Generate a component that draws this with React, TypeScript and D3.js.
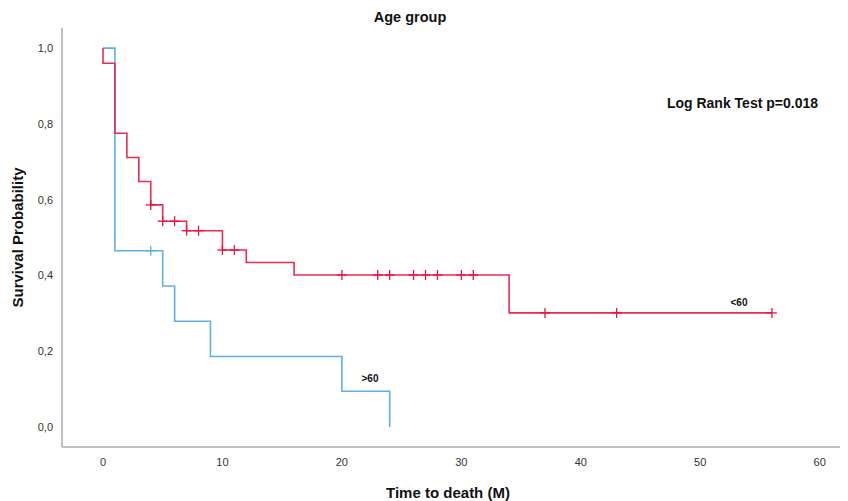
import { useMemo } from 'react';
import * as d3 from 'd3';

const WIDTH = 848;
const HEIGHT = 501;
const PLOT = { left: 62, right: 840, top: 28, bottom: 447 };

// <60 group: drop times and survival after each drop
const youngTimes = [0, 1, 2, 3, 4, 5, 7, 10, 12, 16, 34];
const youngSurv = [0.96, 0.775, 0.711, 0.648, 0.586, 0.543, 0.518, 0.467, 0.434, 0.401, 0.301];
const youngEnd = 56;
const youngCensored = [4, 5, 6, 7, 8, 10, 11, 20, 23, 24, 26, 27, 28, 30, 31, 37, 43, 56];

// >60 group
const oldTimes = [1, 5, 6, 9, 20, 24];
const oldSurv = [0.465, 0.372, 0.279, 0.186, 0.094, 0.0];
const oldEnd = 24;
const oldCensored = [4];

const xTicks = [0, 10, 20, 30, 40, 50, 60];
const yTicks = [0, 0.2, 0.4, 0.6, 0.8, 1.0];

const RED = '#ea2a55';
const BLUE = '#5db0e6';

function survAt(times: number[], surv: number[], t: number) {
  let s = 1;
  times.forEach((tt, i) => {
    if (tt <= t) s = surv[i];
  });
  return s;
}

export default function App() {
  const x = d3.scaleLinear().domain([-3.43, 61.7]).range([PLOT.left, PLOT.right]);
  const y = d3.scaleLinear().domain([-0.053, 1.053]).range([PLOT.bottom, PLOT.top]);

  const curves = useMemo(() => {
    const build = (times: number[], surv: number[], end: number) => {
      const pts: [number, number][] = [[0, 1]];
      let prev = 1;
      times.forEach((t, i) => {
        pts.push([t, prev]);
        pts.push([t, surv[i]]);
        prev = surv[i];
      });
      if (end > times[times.length - 1]) pts.push([end, prev]);
      return d3.line<[number, number]>().x((d) => x(d[0])).y((d) => y(d[1]))(pts) || '';
    };
    return {
      young: build(youngTimes, youngSurv, youngEnd),
      old: build(oldTimes, oldSurv, oldEnd),
    };
  }, []);

  const fmt = (v: number) => v.toFixed(1).replace('.', ',');
  const font = '"Liberation Sans", Arial, sans-serif';

  const censorMarks = (times: number[], tt: number[], ss: number[], color: string) =>
    times.map((t, i) => {
      const cx = x(t);
      const cy = y(survAt(tt, ss, t));
      return (
        <g key={i} stroke={color} strokeWidth={1.3}>
          <line x1={cx - 5} x2={cx + 5} y1={cy} y2={cy} />
          <line x1={cx} x2={cx} y1={cy - 5} y2={cy + 5} />
        </g>
      );
    });

  return (
    <svg width={WIDTH} height={HEIGHT} style={{ display: 'block', position: 'absolute', left: 0, top: 0 }}>
      <rect width={WIDTH} height={HEIGHT} fill="#fff" />
      <text x={410} y={22} textAnchor="middle" fontFamily={font} fontWeight="bold" fontSize={14.5} fill="#111">
        Age group
      </text>

      {/* axes */}
      <line x1={PLOT.left} x2={PLOT.left} y1={PLOT.top} y2={PLOT.bottom} stroke="#aaa" strokeWidth={1.5} />
      <line x1={PLOT.left} x2={PLOT.right} y1={PLOT.bottom} y2={PLOT.bottom} stroke="#aaa" strokeWidth={1.5} />

      {yTicks.map((v) => (
        <text key={v} x={53} y={y(v) + 4} textAnchor="end" fontFamily={font} fontSize={11} fill="#333">
          {fmt(v)}
        </text>
      ))}
      {xTicks.map((v) => (
        <text key={v} x={x(v)} y={466} textAnchor="middle" fontFamily={font} fontSize={11} fill="#333">
          {v}
        </text>
      ))}

      <text
        transform={`translate(23, ${(PLOT.top + PLOT.bottom) / 2}) rotate(-90)`}
        textAnchor="middle"
        fontFamily={font}
        fontWeight="bold"
        fontSize={15}
        fill="#111"
      >
        Survival Probability
      </text>
      <text x={448} y={498} textAnchor="middle" fontFamily={font} fontWeight="bold" fontSize={15} fill="#111">
        Time to death (M)
      </text>

      <path d={curves.old} fill="none" stroke={BLUE} strokeWidth={1.6} />
      <path d={curves.young} fill="none" stroke={RED} strokeWidth={1.6} />
      {censorMarks(oldCensored, oldTimes, oldSurv, BLUE)}
      {censorMarks(youngCensored, youngTimes, youngSurv, '#e8123f')}

      <text x={370} y={382} textAnchor="middle" fontFamily={font} fontWeight="bold" fontSize={10} fill="#111">
        &gt;60
      </text>
      <text x={739} y={306} textAnchor="middle" fontFamily={font} fontWeight="bold" fontSize={10} fill="#111">
        &lt;60
      </text>
      <text x={818} y={108} textAnchor="end" fontFamily={font} fontWeight="bold" fontSize={14} fill="#111">
        Log Rank Test p=0.018
      </text>
    </svg>
  );
}
